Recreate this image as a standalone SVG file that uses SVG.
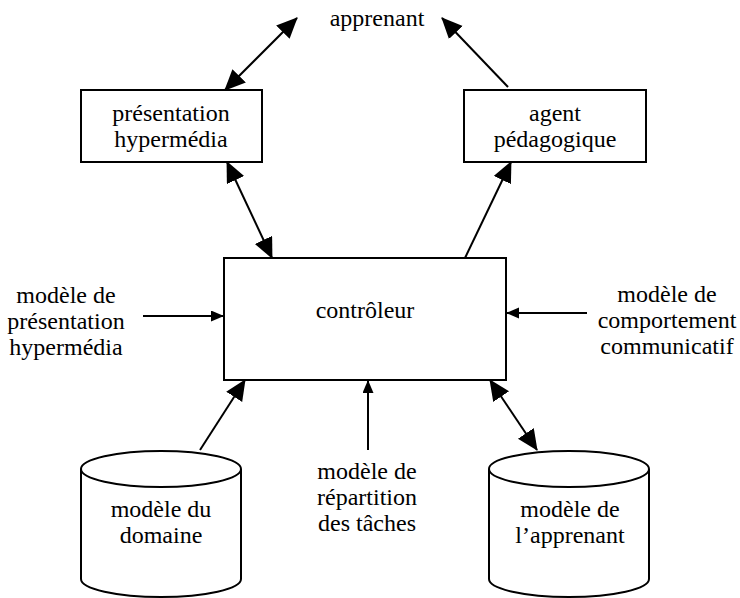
<svg xmlns="http://www.w3.org/2000/svg" width="740" height="598" viewBox="0 0 740 598">
<style>
text{fill:#000;text-anchor:middle;font-size:24px}
.box{fill:#fff;stroke:#000;stroke-width:2}
.cyl{fill:#fff;stroke:#000;stroke-width:2}
.c line{stroke:#000;stroke-width:2}
</style>
<defs>
<marker id="big" markerUnits="userSpaceOnUse" markerWidth="22" markerHeight="20" refX="20" refY="9.5" orient="auto-start-reverse" viewBox="0 0 22 20">
<path d="M0,0 L21,9.5 L0,19 z" fill="#000"/>
</marker>
<marker id="small" markerUnits="userSpaceOnUse" markerWidth="14" markerHeight="12" refX="13" refY="5.5" orient="auto-start-reverse" viewBox="0 0 14 12">
<path d="M0,0 L13,5.5 L0,11 z" fill="#000"/>
</marker>
</defs>
<rect width="740" height="598" fill="#fff"/>
<g id="apprenant"><text font-family="Liberation Serif" x="377" y="26">apprenant</text></g>
<g id="presentation"><rect class="box" x="81" y="90" width="181" height="72"/><text font-family="Liberation Serif" x="171" y="121">présentation</text><text font-family="Liberation Serif" x="171" y="147">hypermédia</text></g>
<g id="agent"><rect class="box" x="464" y="90" width="182" height="72"/><text font-family="Liberation Serif" x="555" y="121">agent</text><text font-family="Liberation Serif" x="555" y="147">pédagogique</text></g>
<g id="controleur"><rect class="box" x="224" y="258" width="282" height="122"/><text font-family="Liberation Serif" x="365" y="318">contrôleur</text></g>
<g id="modele-presentation"><text font-family="Liberation Serif" x="66" y="303">modèle de</text><text font-family="Liberation Serif" x="66" y="329">présentation</text><text font-family="Liberation Serif" x="66" y="355">hypermédia</text></g>
<g id="modele-comportement"><text font-family="Liberation Serif" x="667" y="302">modèle de</text><text font-family="Liberation Serif" x="667" y="328">comportement</text><text font-family="Liberation Serif" x="667" y="354">communicatif</text></g>
<g id="modele-repartition"><text font-family="Liberation Serif" x="367" y="479">modèle de</text><text font-family="Liberation Serif" x="367" y="505">répartition</text><text font-family="Liberation Serif" x="367" y="531">des tâches</text></g>
<g id="modele-domaine"><path class="cyl" d="M81,469 L81,579 A80,18 0 0 0 241,579 L241,469"/><ellipse class="cyl" cx="161" cy="469" rx="80" ry="18"/><text font-family="Liberation Serif" x="161" y="517">modèle du</text><text font-family="Liberation Serif" x="161" y="543">domaine</text></g>
<g id="modele-apprenant"><path class="cyl" d="M489,469 L489,579 A80,18 0 0 0 649,579 L649,469"/><ellipse class="cyl" cx="569" cy="469" rx="80" ry="18"/><text font-family="Liberation Serif" x="570" y="517">modèle de</text><text font-family="Liberation Serif" x="570" y="543">l’apprenant</text></g>
<g id="connectors" class="c">
<line x1="225" y1="90" x2="297" y2="18" marker-start="url(#big)" marker-end="url(#big)"/>
<line x1="508" y1="87" x2="442" y2="18" marker-end="url(#big)"/>
<line x1="227" y1="162" x2="272" y2="258" marker-start="url(#big)" marker-end="url(#big)"/>
<line x1="465" y1="258" x2="511" y2="162" marker-end="url(#big)"/>
<line x1="143" y1="316" x2="224" y2="316" marker-end="url(#small)"/>
<line x1="587" y1="313" x2="506" y2="313" marker-end="url(#small)"/>
<line x1="368" y1="450" x2="368" y2="380" marker-end="url(#small)"/>
<line x1="200" y1="450" x2="245" y2="380" marker-end="url(#big)"/>
<line x1="490" y1="380" x2="537" y2="450" marker-start="url(#big)" marker-end="url(#big)"/>
</g>
</svg>
